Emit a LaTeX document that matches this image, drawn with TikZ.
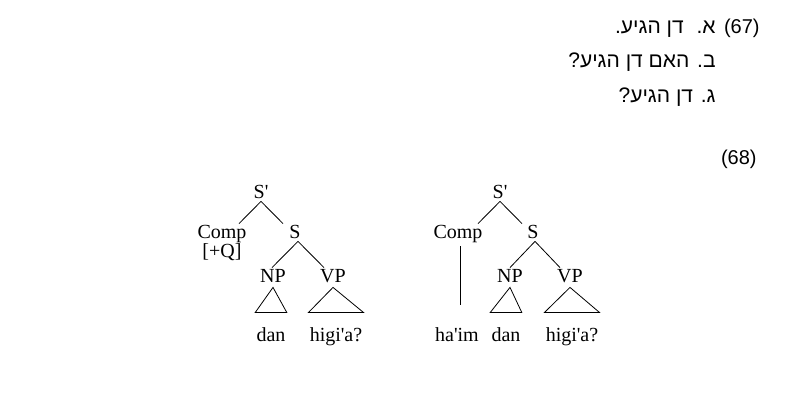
\documentclass[tikz,border=0pt]{standalone}
\usepackage{fontspec}
\setmainfont{Liberation Serif}
\newfontfamily\hebfont[Script=Hebrew]{Liberation Sans}
\TeXXeTstate=1
\newcommand\apos{\textquotesingle}
\begin{document}
\begin{tikzpicture}[x=1pt,y=-1pt,line width=0.8pt,
      tree node/.style={font=\fontsize{20}{24}\selectfont,inner sep=1pt,
        text height=14pt,text depth=1pt,anchor=base},
      ex node/.style={font=\hebfont\fontsize{21}{24}\selectfont,inner sep=0pt,
        anchor=base east}]
 \useasboundingbox (0,0) rectangle (788,411);
 % examples
 \node[ex node,font=\hebfont\fontsize{20}{24}\selectfont] (n67) at (760,34) {(67)};
 \node[ex node] (ex1) at (716,34) {\beginR א.\kern7pt\ דן הגיע.\endR};
 \node[ex node] (ex2) at (716,68) {\beginR ב. האם דן הגיע?\endR};
 \node[ex node] (ex3) at (716,103) {\beginR ג. דן הגיע?\endR};
 \node[ex node,font=\hebfont\fontsize{20}{24}\selectfont] (n68) at (757,165) {(68)};

 % left tree
 \node[tree node] (sp1) at (261,199) {S\apos};
 \node[tree node] (comp1) at (222,239) {Comp};
 \node[tree node] (q1) at (222,258) {[+Q]};
 \node[tree node] (s1) at (295,239) {S};
 \node[tree node] (np1) at (273,283) {NP};
 \node[tree node] (vp1) at (333,283) {VP};
 \node[tree node] (dan1) at (271,342) {dan};
 \node[tree node] (higia1) at (336,342) {higi\apos a?};

 % right tree
 \node[tree node] (sp2) at (500,199) {S\apos};
 \node[tree node] (comp2) at (458,239) {Comp};
 \node[tree node] (s2) at (533,239) {S};
 \node[tree node] (np2) at (510,283) {NP};
 \node[tree node] (vp2) at (570,283) {VP};
 \node[tree node] (haim2) at (457,342) {ha\apos im};
 \node[tree node] (dan2) at (506,342) {dan};
 \node[tree node] (higia2) at (572,342) {higi\apos a?};

 \draw (sp1.south) -- ([xshift=17pt]comp1.north);
 \draw (sp1.south) -- ([xshift=-12pt]s1.north);
 \draw ([xshift=3pt]s1.south) -- ([xshift=-1pt]np1.north);
 \draw ([xshift=3pt]s1.south) -- ([xshift=-9pt]vp1.north);
 \draw ([yshift=-2pt]np1.south) -- ([yshift=14pt]dan1.north west)
   -- ([yshift=14pt]dan1.north east) -- cycle;
 \draw ([yshift=-2pt]vp1.south) -- ([yshift=14pt]higia1.north west)
   -- ([yshift=14pt]higia1.north east) -- cycle;

 \draw (sp2.south) -- ([xshift=20pt]comp2.north);
 \draw (sp2.south) -- ([xshift=-11pt]s2.north);
 \draw ([xshift=2pt]s2.south) -- (np2.north);
 \draw ([xshift=2pt]s2.south) -- ([xshift=-10pt]vp2.north);
 \draw[shorten <=5pt,shorten >=22pt] ([xshift=2pt]comp2.south) -- ([xshift=3pt]haim2.north);
 \draw ([yshift=-2pt]np2.south) -- ([yshift=14pt]dan2.north west)
   -- ([yshift=14pt]dan2.north east) -- cycle;
 \draw ([yshift=-2pt]vp2.south) -- ([yshift=14pt]higia2.north west)
   -- ([yshift=14pt]higia2.north east) -- cycle;
\end{tikzpicture}
\end{document}
